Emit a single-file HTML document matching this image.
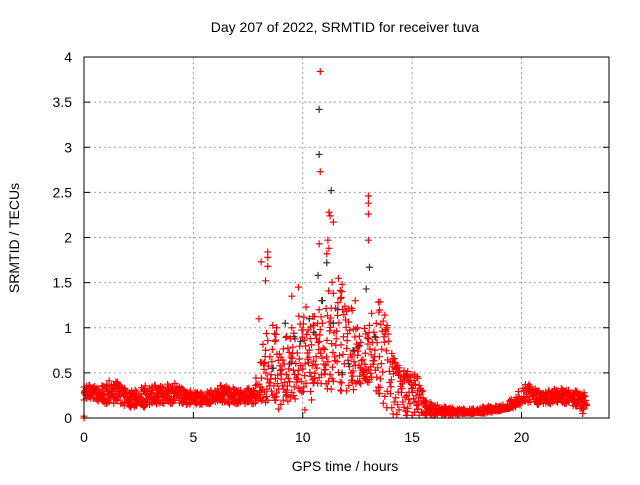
<!DOCTYPE html>
<html><head><meta charset="utf-8"><style>
body{margin:0;background:#fff;font-family:"Liberation Sans",sans-serif}
svg text{font-family:"Liberation Sans",sans-serif;font-size:14px;fill:#000}
</style></head><body>
<svg id="c" width="640" height="480" xmlns="http://www.w3.org/2000/svg">
<text x="345" y="32" text-anchor="middle">Day 207 of 2022, SRMTID for receiver tuva</text>
<text x="345" y="471" text-anchor="middle">GPS time / hours</text>
<text transform="translate(19,238) rotate(-90)" text-anchor="middle">SRMTID / TECUs</text>
<g id="grid"></g><g id="ticks"></g><g id="marks"></g>
<rect x="84" y="57" width="525" height="361" fill="none" stroke="#000" stroke-width="1"/>
</svg>
<script>
const xTicks=[0,5,10,15,20];
const yTicks=[0,0.5,1,1.5,2,2.5,3,3.5,4];
const yTickLabels=["0","0.5","1","1.5","2","2.5","3","3.5","4"];
const step=0.25;
const lowVals=[0.2,0.22,0.2,0.18,0.16,0.15,0.18,0.15,0.12,0.12,0.14,0.12,0.15,0.16,0.15,0.17,0.16,0.18,0.15,0.15,0.16,0.15,0.14,0.16,0.18,0.18,0.16,0.15,0.16,0.15,0.17,0.15,0.2,0.18,0.15,0.2,0.15,0.18,0.2,0.22,0.3,0.25,0.35,0.4,0.35,0.3,0.4,0.3,0.3,0.3,0.35,0.4,0.4,0.38,0.2,0.15,0.05,0.04,0.03,0.03,0.03,0.03,0.03,0.03,0.03,0.03,0.03,0.03,0.04,0.05,0.05,0.05,0.06,0.05,0.06,0.07,0.08,0.1,0.12,0.2,0.2,0.18,0.15,0.15,0.16,0.15,0.18,0.17,0.16,0.15,0.12,0.1];
const midVals=[0.28,0.3,0.27,0.26,0.25,0.3,0.32,0.28,0.22,0.2,0.2,0.22,0.24,0.26,0.25,0.28,0.27,0.3,0.24,0.22,0.24,0.22,0.2,0.22,0.25,0.28,0.27,0.26,0.25,0.24,0.26,0.25,0.35,0.45,0.5,0.55,0.45,0.5,0.55,0.6,0.75,0.7,0.7,0.8,0.7,0.75,1.0,1.05,0.8,0.7,0.6,0.55,0.65,0.7,0.8,0.9,0.6,0.5,0.4,0.35,0.3,0.32,0.14,0.1,0.09,0.08,0.08,0.07,0.07,0.06,0.06,0.06,0.06,0.08,0.09,0.1,0.1,0.1,0.11,0.14,0.2,0.3,0.28,0.24,0.22,0.22,0.24,0.25,0.25,0.24,0.22,0.2];
const highVals=[0.38,0.36,0.35,0.34,0.4,0.42,0.4,0.35,0.3,0.3,0.32,0.35,0.38,0.36,0.35,0.38,0.36,0.4,0.32,0.3,0.3,0.28,0.28,0.3,0.33,0.36,0.35,0.34,0.32,0.3,0.33,0.32,0.6,0.9,1.0,1.05,0.8,0.9,1.0,1.1,1.2,1.25,1.1,1.3,1.3,1.45,1.6,1.5,1.4,1.2,1.0,0.95,1.1,1.2,1.3,1.2,0.8,0.6,0.55,0.5,0.58,0.45,0.22,0.18,0.15,0.14,0.12,0.12,0.1,0.1,0.1,0.1,0.12,0.12,0.13,0.13,0.14,0.15,0.2,0.25,0.35,0.38,0.35,0.3,0.3,0.3,0.32,0.33,0.32,0.3,0.3,0.28];
const extraX=[8,8.1,8.3,8.4,8.4,8.4,10.8,10.8,10.75,11.2,11.25,11.4,13,13,13,13,11.15,11.2,11.1,9.5,9.8,0,0,22.8,22.8,22.8,10.1,8.9,10.4,12.4];
const extraY=[1.1,1.73,1.52,1.84,1.78,1.68,3.84,2.73,1.93,2.28,2.24,2.17,2.46,2.38,2.26,1.97,1.97,1.88,1.82,1.35,1.45,0,0.02,0.1,0.05,0.15,0.09,0.1,0.2,1.3];
const darkX=[10.75,10.75,11.3,13.05,10.7,11.1,9.2,9.6,10.3,11.6,12.1,12.6,12.9,10.9,11.8,8.6,9.9,10.5,11.4,12.3,13.3,9.4];
const darkY=[3.42,2.92,2.52,1.67,1.58,1.72,1.05,0.9,1.1,1.2,0.6,0.8,1.43,1.3,0.5,0.55,0.85,0.95,1.05,0.75,0.9,0.6];
const X=v=>84+v*(525/24), Y=v=>418-v*(361/4);
const NS="http://www.w3.org/2000/svg";
const g=document.getElementById('grid'),t=document.getElementById('ticks'),m=document.getElementById('marks');
function el(p,tag,a){const e=document.createElementNS(NS,tag);for(const k in a)e.setAttribute(k,a[k]);p.appendChild(e);return e;}
xTicks.forEach(v=>{
 if(v>0){const l=el(g,'line',{x1:X(v),x2:X(v),y1:57,y2:418,stroke:'#a0a0a0','stroke-dasharray':'2,3'});
 
 }
 el(t,'line',{x1:X(v),x2:X(v),y1:418,y2:412,stroke:'#000'});
 const s=el(t,'text',{x:X(v),y:442,'text-anchor':'middle'});s.textContent=v;
 
 
});
yTicks.forEach((v,i)=>{
 if(v>0&&v<4){const l=el(g,'line',{x1:84,x2:609,y1:Y(v),y2:Y(v),stroke:'#a0a0a0','stroke-dasharray':'2,3'});
 
 }
 el(t,'line',{x1:84,x2:90,y1:Y(v),y2:Y(v),stroke:'#000'});
 el(t,'line',{x1:609,x2:603,y1:Y(v),y2:Y(v),stroke:'#000'});
 const s=el(t,'text',{x:72,y:Y(v)+5,'text-anchor':'end'});s.textContent=yTickLabels[i];
 
 
});
function cross(x,y,c,name){
 const p=el(m,'path',{d:`M${X(x)-3.5},${Y(y)}h7M${X(x)},${Y(y)-3.5}v7`,stroke:c,'stroke-width':1.2});
 
 
}
const fracs=[0,0.06,0.12,0.2,0.27,0.34,0.4,0.47,0.55,0.62,0.68,0.75,0.82,0.9,1];
const offs=[0,0.07,0.15,0.21,0.03,0.11,0.18,0.09,0.13,0.05,0.23,0.01];
for(let i=0;i<lowVals.length;i++){
 const nl=lowVals[i+1]!==undefined?lowVals[i+1]:lowVals[i];
 const nh=highVals[i+1]!==undefined?highVals[i+1]:highVals[i];
 fracs.forEach((f,k)=>{
  const o=offs[(k*5+i)%offs.length];
  const a=o/step;
  const lo=lowVals[i]+(nl-lowVals[i])*a, hi=highVals[i]+(nh-highVals[i])*a;
  const md=midVals[i];
  const v=f<0.5? lo+(md-lo)*(f/0.5) : md+(hi-md)*((f-0.5)/0.5);
  cross(i*step+o,v,'#f00','point-srmtid');
 });
}
darkX.forEach((x,i)=>cross(x,darkY[i],'#333','point-other'));
extraX.forEach((x,i)=>cross(x,extraY[i],'#f00','point-srmtid'));
</script>
</body></html>
